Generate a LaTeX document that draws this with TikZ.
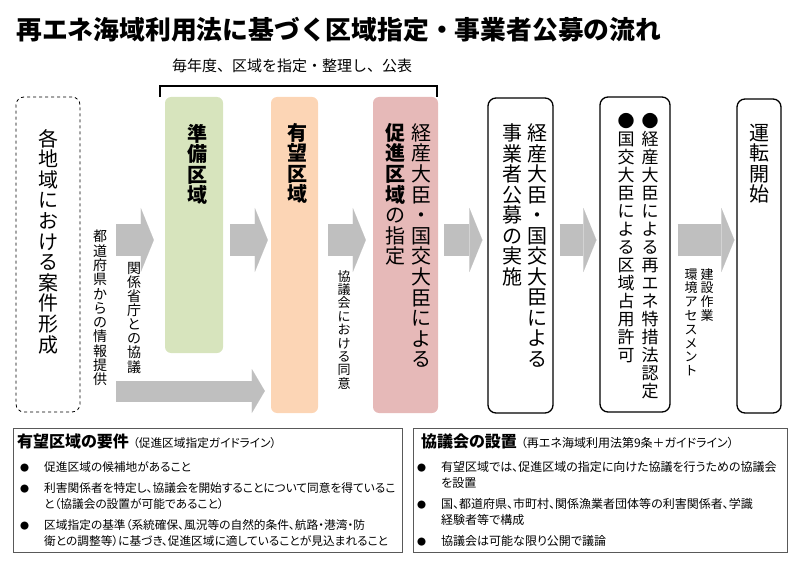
\documentclass[tikz,border=0pt]{standalone}
\usepackage{fontspec}
\setmainfont{Noto Sans CJK JP}
\newfontfamily\propfont{Noto Sans CJK JP}[RawFeature=+palt]
\usetikzlibrary{arrows.meta, positioning, calc}

\definecolor{prepgreen}{HTML}{D7E4BD}
\definecolor{prospectpeach}{HTML}{FCD5B5}
\definecolor{promopink}{HTML}{E6B9B8}
\definecolor{arrowgray}{HTML}{BFBFBF}
\definecolor{framegray}{HTML}{595959}

% vertical text: one character per line
\def\vtxtend{\vtxtend}
\newcommand\vtxt[1]{\vtxtloop#1\vtxtend}
\def\vtxtloop#1{\ifx\vtxtend#1\else\hbox to 1em{\hss#1\hss}\expandafter\vtxtloop\fi}
\newcommand\vcol[2]{\vtop{\baselineskip=#1\relax\lineskip=0pt\lineskiplimit=-20pt\relax#2}}

% bullet line of the note boxes
\newcommand\noteitem[1]{\par\vspace{5pt}\noindent\hangindent=27pt\hangafter=1%
  \makebox[27pt][l]{\hspace{3pt}{\fontsize{9}{9}\selectfont ●}}#1\par}

\tikzset{
  stagebox/.style={inner sep=0pt, rounded corners=6pt},
  framedbox/.style={draw=black, line width=1.3pt, rounded corners=8pt, inner sep=0pt},
  plannedbox/.style={draw=black, dashed, line width=0.8pt, rounded corners=8pt, inner sep=0pt},
  vlabel/.style={inner sep=0pt, anchor=north},
  flowarrow/.style={draw=arrowgray, line width=32pt,
    -{Triangle[length=13pt, width=64pt, line width=0.01pt]}},
  infoarrow/.style={draw=arrowgray, line width=21pt,
    -{Triangle[length=13pt, width=44pt, line width=0.01pt]}},
  notebox/.style={draw=framegray, line width=1.2pt, inner sep=0pt, anchor=north west},
  notetext/.style={inner sep=0pt, anchor=north west, align=left,
    font=\propfont\fontsize{12}{16}\selectfont}
}

\begin{document}
\begin{tikzpicture}[x=1pt, y=-1pt]
  \useasboundingbox (0,0) rectangle (800,564);

  % Title
  \node[anchor=west, inner sep=0pt, font=\bfseries\fontsize{25.8}{26}\selectfont] (title) at (16,30)
    {再エネ海域利用法に基づく区域指定・事業者公募の流れ};

  % Stage boxes
  \node[plannedbox, minimum width=64pt, minimum height=315pt] (formation) at (48,254.5) {};
  \node[stagebox, fill=prepgreen, minimum width=58pt, minimum height=256pt] (prep) at (194,225) {};
  \node[stagebox, fill=prospectpeach, minimum width=47pt, minimum height=316pt] (prospect) at (294.5,255) {};
  \node[stagebox, fill=promopink, minimum width=65pt, minimum height=316pt] (promo) at (405.5,255) {};
  \node[framedbox, minimum width=65pt, minimum height=315pt] (solicit) at (520.5,255.5) {};
  \node[framedbox, minimum width=70pt, minimum height=315pt] (permit) at (635,254.5) {};
  \node[framedbox, minimum width=44pt, minimum height=314pt] (operation) at (759,256) {};

  % Texts of the stages
  \begin{scope}[font=\fontsize{20}{20}\selectfont]
    \node[vlabel] (formationtext) at (48,129) {\vcol{20.6pt}{\vtxt{各地域における案件形成}}};
    \node[vlabel, font=\bfseries\fontsize{20}{20}\selectfont] (preptext) at (197,124) {\vcol{20.5pt}{\vtxt{準備区域}}};
    \node[vlabel, font=\bfseries\fontsize{20}{20}\selectfont] (prospecttext) at (297.5,123) {\vcol{20.5pt}{\vtxt{有望区域}}};
    \node[vlabel] (promotext) at (408,123) {%
      \vcol{20.6pt}{{\bfseries\vtxt{促進区域}}\vtxt{の指定}}\hskip6pt%
      \vcol{20.6pt}{\vtxt{経産大臣・国交大臣による}}};
    \node[vlabel] (solicittext) at (524.5,124) {%
      \vcol{20.5pt}{\vtxt{事業者公募の実施}}\hskip5pt%
      \vcol{20.5pt}{\vtxt{経産大臣・国交大臣による}}};
    \node[vlabel, font=\fontsize{17}{17}\selectfont] (permittext) at (638,113) {%
      \vcol{18pt}{\vtxt{●国交大臣による区域占用許可}}\hskip7pt%
      \vcol{18pt}{\vtxt{●経産大臣による再エネ特措法認定}}};
    \node[vlabel] (operationtext) at (759,124) {\vcol{20.3pt}{\vtxt{運転開始}}};
  \end{scope}

  % Yearly bracket
  \draw[line width=1.5pt] ([xshift=-5pt]prep.north west) -- ++(0,-11) -| ([xshift=-1pt]promo.north east);
  \node[font=\fontsize{15}{15}\selectfont] (yearly) at (292,66) {毎年度、区域を指定・整理し、公表};

  % Arrows between the stages
  \coordinate (upperrow) at (0,240);
  \coordinate (lowerrow) at (0,391);
  \draw[flowarrow, shorten <=36pt, shorten >=11pt] (formation.east |- upperrow) -- (prep.west |- upperrow);
  \draw[flowarrow, shorten <=7pt, shorten >=3pt] (prep.east |- upperrow) -- (prospect.west |- upperrow);
  \draw[flowarrow, shorten <=10pt, shorten >=7pt] (prospect.east |- upperrow) -- (promo.west |- upperrow);
  \draw[flowarrow, shorten <=6pt, shorten >=5pt] (promo.east |- upperrow) -- (solicit.west |- upperrow);
  \draw[flowarrow, shorten <=6pt, shorten >=3pt] (solicit.east |- upperrow) -- (permit.west |- upperrow);
  \draw[flowarrow, shorten <=7pt, shorten >=2pt] (permit.east |- upperrow) -- (operation.west |- upperrow);
  \draw[infoarrow, shorten <=36pt, shorten >=6pt] (formation.east |- lowerrow) -- (prospect.west |- lowerrow);

  % Arrow labels
  \node[vlabel, font=\fontsize{14}{14}\selectfont] (infolabel) at (100,230) {\vcol{14.3pt}{\vtxt{都道府県からの情報提供}}};
  \node[vlabel, font=\fontsize{14}{14}\selectfont] (consultlabel) at (134,262) {\vcol{14.1pt}{\vtxt{関係省庁との協議}}};
  \node[vlabel, font=\fontsize{13}{13}\selectfont] (consentlabel) at (344,270) {\vcol{13.4pt}{\vtxt{協議会における同意}}};
  \node[vlabel, font=\fontsize{13}{13}\selectfont] (buildlabel) at (699,268) {%
    \vcol{13.8pt}{\vtxt{環境アセスメント}}\hskip3pt%
    \vcol{13.8pt}{\vtxt{建設作業}}};

  % Note boxes
  \node[notebox, minimum width=389pt, minimum height=124pt] (reqbox) at (13,428) {};
  \node[notebox, minimum width=374pt, minimum height=124pt] (councilbox) at (413,428) {};

  \node[notetext, text width=384pt, font=\propfont\fontsize{11.7}{16}\selectfont] (reqtext) at (17,434) {%
    {\bfseries\fontsize{16}{18}\selectfont 有望区域の要件}\hspace{4pt}（促進区域指定ガイドライン）\par\vspace{3pt}
    \noteitem{促進区域の候補地があること}
    \noteitem{利害関係者を特定し、協議会を開始することについて同意を得ているこ\newline と（協議会の設置が可能であること）}
    \noteitem{区域指定の基準（系統確保、風況等の自然的条件、航路・港湾・防\newline 衛との調整等）に基づき、促進区域に適していることが見込まれること}};
  \node[notetext, text width=370pt] (counciltext) at (414,434) {%
    \hspace*{7pt}{\bfseries\fontsize{16}{18}\selectfont 協議会の設置}\hspace{4pt}（再エネ海域利用法第9条＋ガイドライン）\par\vspace{3pt}
    \noteitem{有望区域では、促進区域の指定に向けた協議を行うための協議会\newline を設置}
    \noteitem{国、都道府県、市町村、関係漁業者団体等の利害関係者、学識\newline 経験者等で構成}
    \noteitem{協議会は可能な限り公開で議論}};
\end{tikzpicture}
\end{document}
